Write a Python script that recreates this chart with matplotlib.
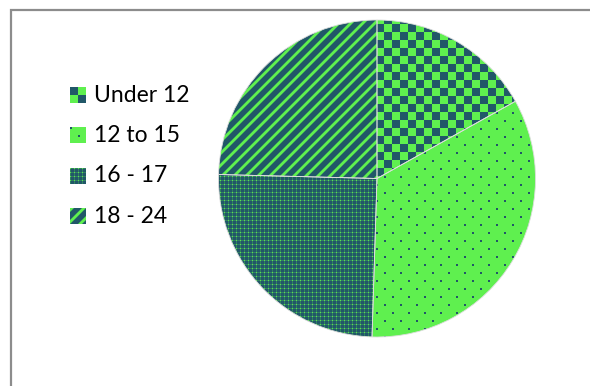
import numpy as np
import matplotlib.pyplot as plt
from matplotlib.patches import Rectangle

# age groups and their share of the total
labels = ['Under 12', '12 to 15', '16 - 17', '18 - 24']
shares = [16.9, 33.6, 24.9, 24.6]

W, H = 590, 386
dark = np.array([0x21, 0x57, 0x68]) / 255
green = np.array([0x5f, 0xf0, 0x4f]) / 255


def paint(frac):
    # frac = amount of dark colour per pixel (0..1)
    frac = np.asarray(frac, dtype=float)[..., None]
    return frac * dark + (1 - frac) * green


def pattern(i, rr, cc):
    if i == 0:  # checkerboard
        return paint(((rr // 8 + cc // 8) % 2) == 0)
    if i == 1:  # sparse dark dots on green
        return paint((rr % 8 < 2) & (((cc + 8 * ((rr // 8) % 2)) % 16) < 2))
    if i == 2:  # small green dots on dark
        hl = rr % 4 == 0
        vl = cc % 4 == 0
        return paint(np.where(hl & vl, 0.1, np.where(hl | vl, 0.72, 1.0)))
    # wide diagonal stripes with soft edges
    d = (rr + cc) % 12
    return paint(np.where(d < 3, 0.0, np.where((d == 3) | (d == 11), 0.5, 1.0)))


fig = plt.figure(figsize=(W / 100, H / 100), dpi=100)
ax = fig.add_axes([0, 0, 1, 1])

rr, cc = np.mgrid[0:H, 0:W]
wedges, _ = ax.pie(shares, startangle=90, counterclock=False,
                   center=(377, H - 178.5), radius=158.5)
for i, w in enumerate(wedges):
    w.set(facecolor='none', edgecolor='#dddddd', linewidth=0.6, zorder=3)
    im = ax.imshow(pattern(i, rr, cc), extent=(0, W, 0, H), origin='upper',
                   interpolation='nearest', zorder=2)
    im.set_clip_path(w)

# legend on the left
lr, lc = np.mgrid[0:16, 0:16]
for i, lab in enumerate(labels):
    yc = H - (95 + 40.5 * i)
    ax.imshow(pattern(i, lr, lc), extent=(70, 86, yc - 8, yc + 8),
              origin='upper', interpolation='nearest', zorder=2)
    ax.text(94, yc, lab, fontsize=16.5, family='Lato', va='center', ha='left')

# chart border
ax.add_patch(Rectangle((11, -20), W + 20, H - 10 + 20, fill=False,
                       edgecolor='#8c8c8c', linewidth=1.6))

ax.set_xlim(0, W)
ax.set_ylim(0, H)
ax.set_aspect('auto')
ax.axis('off')
fig.savefig('out.png', dpi=100)
